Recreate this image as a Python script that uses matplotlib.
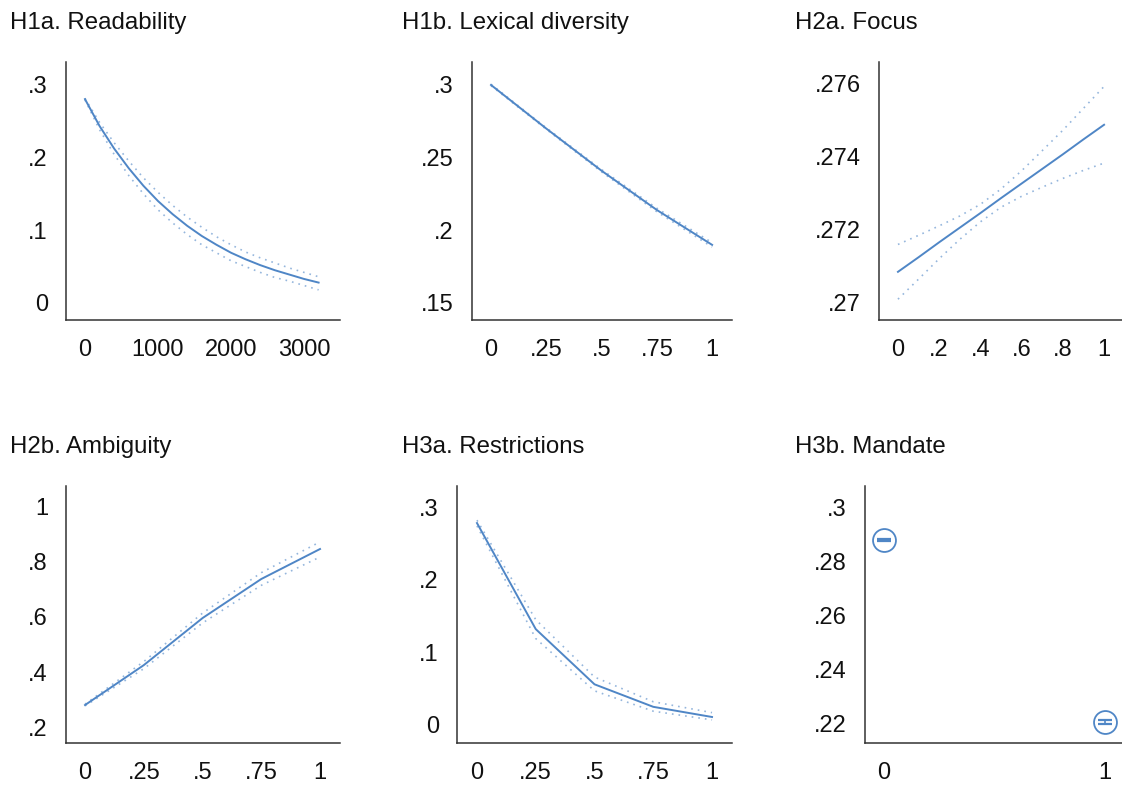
import matplotlib
matplotlib.use("Agg")
import matplotlib.pyplot as plt
import numpy as np

plt.rcParams['font.family'] = ['Liberation Sans', 'DejaVu Sans']

BLUE = '#4f86c6'
AXC = '#333333'

# H1a. Readability
read_x = [0, 200, 400, 600, 800, 1000, 1200, 1400, 1600, 1800, 2000, 2200, 2400, 2600, 2800, 3000, 3200]
read_y = [0.280, 0.243, 0.212, 0.185, 0.161, 0.140, 0.122, 0.106, 0.092, 0.080, 0.069, 0.060, 0.052, 0.045, 0.039, 0.033, 0.028]
read_lo = [0.279, 0.238, 0.204, 0.175, 0.150, 0.128, 0.110, 0.094, 0.080, 0.069, 0.058, 0.050, 0.042, 0.035, 0.030, 0.024, 0.018]
read_hi = [0.281, 0.248, 0.220, 0.195, 0.172, 0.152, 0.134, 0.118, 0.104, 0.091, 0.080, 0.070, 0.062, 0.055, 0.048, 0.042, 0.036]

# H1b. Lexical diversity
lex_x = [0, 0.25, 0.5, 0.75, 1]
lex_y = [0.300, 0.270, 0.241, 0.214, 0.190]
lex_lo = [0.2995, 0.2695, 0.2402, 0.2128, 0.1885]
lex_hi = [0.3005, 0.2705, 0.2418, 0.2152, 0.1915]

# H2a. Focus
foc_x = [0, 0.1, 0.2, 0.3, 0.4, 0.5, 0.6, 0.7, 0.8, 0.9, 1]
foc_y = [0.27085, 0.27125, 0.27166, 0.27206, 0.27246, 0.27287, 0.27327, 0.27367, 0.27407, 0.27448, 0.27488]
foc_lo = [0.27010, 0.27065, 0.27121, 0.27174, 0.27222, 0.27262, 0.27292, 0.27317, 0.27341, 0.27363, 0.27383]
foc_hi = [0.27160, 0.27185, 0.27211, 0.27238, 0.27270, 0.27312, 0.27362, 0.27417, 0.27473, 0.27533, 0.27593]

# H2b. Ambiguity
amb_x = [0, 0.25, 0.5, 0.75, 1]
amb_y = [0.280, 0.425, 0.596, 0.738, 0.847]
amb_lo = [0.277, 0.412, 0.578, 0.715, 0.818]
amb_hi = [0.283, 0.438, 0.614, 0.761, 0.873]

# H3a. Restrictions
res_x = [0, 0.25, 0.5, 0.75, 1]
res_y = [0.278, 0.132, 0.056, 0.025, 0.011]
res_lo = [0.274, 0.119, 0.047, 0.019, 0.007]
res_hi = [0.282, 0.145, 0.066, 0.032, 0.017]

# H3b. Mandate
man_x = [0, 1]
man_y = [0.2878, 0.2204]
man_lo = [0.2876, 0.2197]
man_hi = [0.2880, 0.2211]

panels = [
    dict(title='H1a. Readability', x=read_x, y=read_y, lo=read_lo, hi=read_hi,
         xlim=(-260, 3493), ylim=(-0.0234, 0.331),
         xt=[0, 1000, 2000, 3000], xl=['0', '1000', '2000', '3000'],
         yt=[0, 0.1, 0.2, 0.3], yl=['0', '.1', '.2', '.3'],
         box=(66, 62, 340, 320), tx=10, ty=23),
    dict(title='H1b. Lexical diversity', x=lex_x, y=lex_y, lo=lex_lo, hi=lex_hi,
         xlim=(-0.086, 1.09), ylim=(0.1383, 0.3158),
         xt=[0, 0.25, 0.5, 0.75, 1], xl=['0', '.25', '.5', '.75', '1'],
         yt=[0.15, 0.2, 0.25, 0.3], yl=['.15', '.2', '.25', '.3'],
         box=(472, 62, 732, 320), tx=402, ty=23),
    dict(title='H2a. Focus', x=foc_x, y=foc_y, lo=foc_lo, hi=foc_hi,
         xlim=(-0.092, 1.087), ylim=(0.26953, 0.2766),
         xt=[0, 0.2, 0.4, 0.6, 0.8, 1], xl=['0', '.2', '.4', '.6', '.8', '1'],
         yt=[0.27, 0.272, 0.274, 0.276], yl=['.27', '.272', '.274', '.276'],
         box=(879, 62, 1122, 320), tx=795, ty=23),
    dict(title='H2b. Ambiguity', x=amb_x, y=amb_y, lo=amb_lo, hi=amb_hi,
         xlim=(-0.081, 1.085), ylim=(0.142, 1.076),
         xt=[0, 0.25, 0.5, 0.75, 1], xl=['0', '.25', '.5', '.75', '1'],
         yt=[0.2, 0.4, 0.6, 0.8, 1], yl=['.2', '.4', '.6', '.8', '1'],
         box=(66, 486, 340, 743), tx=10, ty=447),
    dict(title='H3a. Restrictions', x=res_x, y=res_y, lo=res_lo, hi=res_hi,
         xlim=(-0.085, 1.085), ylim=(-0.0248, 0.329),
         xt=[0, 0.25, 0.5, 0.75, 1], xl=['0', '.25', '.5', '.75', '1'],
         yt=[0, 0.1, 0.2, 0.3], yl=['0', '.1', '.2', '.3'],
         box=(457, 486, 732, 743), tx=402, ty=447),
    dict(title='H3b. Mandate', x=man_x, y=man_y, lo=man_lo, hi=man_hi,
         xlim=(-0.086, 1.077), ylim=(0.2126, 0.3078),
         xt=[0, 1], xl=['0', '1'],
         yt=[0.22, 0.24, 0.26, 0.28, 0.3], yl=['.22', '.24', '.26', '.28', '.3'],
         box=(865, 486, 1122, 743), tx=795, ty=447, points=True),
]

W, H = 1122, 785
fig = plt.figure(figsize=(W / 100, H / 100), dpi=100)

for p in panels:
    x0, y0, x1, y1 = p['box']
    ax = fig.add_axes([x0 / W, 1 - y1 / H, (x1 - x0) / W, (y1 - y0) / H])
    if p.get('points'):
        y = np.array(p['y'])
        err = [y - np.array(p['lo']), np.array(p['hi']) - y]
        ax.errorbar(p['x'], y, yerr=err, fmt='none', ecolor=BLUE,
                    elinewidth=1.2, capsize=5, capthick=1.6)
        ax.plot(p['x'], y, 'o', ms=16.5, mfc='none', mec=BLUE, mew=1.3,
                clip_on=False)
    else:
        ax.plot(p['x'], p['lo'], color=BLUE, lw=1.2, alpha=0.6,
                linestyle=(0, (1, 3)))
        ax.plot(p['x'], p['hi'], color=BLUE, lw=1.2, alpha=0.6,
                linestyle=(0, (1, 3)))
        ax.plot(p['x'], p['y'], color=BLUE, lw=1.4)
    ax.set_xlim(p['xlim'])
    ax.set_ylim(p['ylim'])
    ax.set_xticks(p['xt'])
    ax.set_xticklabels(p['xl'])
    ax.set_yticks(p['yt'])
    ax.set_yticklabels(p['yl'])
    ax.tick_params(length=0, labelsize=17, colors='#111111')
    ax.tick_params(axis='y', pad=13)
    ax.tick_params(axis='x', pad=14)
    for s in ['top', 'right']:
        ax.spines[s].set_visible(False)
    for s in ['left', 'bottom']:
        ax.spines[s].set_color(AXC)
        ax.spines[s].set_linewidth(1.1)
    fig.text(p['tx'] / W, 1 - p['ty'] / H, p['title'], fontsize=17.3,
             ha='left', va='center', color='#111111')

fig.savefig('out.png', dpi=100, facecolor='white')
